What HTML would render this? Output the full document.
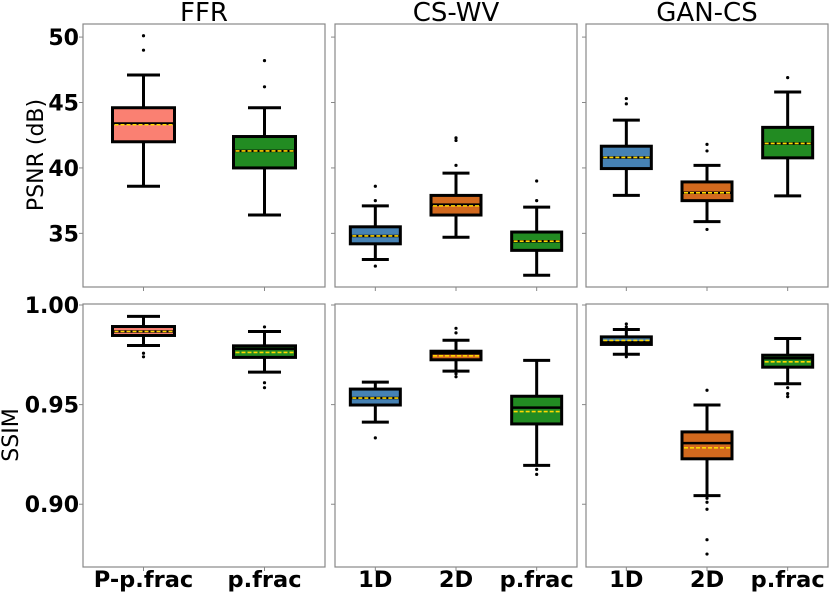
<!DOCTYPE html>
<html><head><meta charset="utf-8"><style>
html,body{margin:0;padding:0;background:#fff;}
svg{display:block;font-family:"DejaVu Sans","Liberation Sans",sans-serif;}
</style></head><body>
<svg id="fig" width="830" height="593" viewBox="0 0 830 593" xmlns="http://www.w3.org/2000/svg"></svg>
<script>
// ---- data ----
const panelTitles = ["FFR","CS-WV","GAN-CS"];
const cats_FFR = ["P-p.frac","p.frac"];
const cats_CSWV = ["1D","2D","p.frac"];
const cats_GAN = ["1D","2D","p.frac"];
const colors_FFR = ["#fa8072","#228b22"];
const colors_3 = ["#4682b4","#d2691e","#228b22"];
// each box: [whislo, q1, median, q3, whishi, mean]
const psnr_FFR = [[38.6,42.0,43.4,44.6,47.1,43.3],[36.4,40.0,41.3,42.4,44.6,41.3]];
const psnr_CSWV = [[33.0,34.2,34.8,35.5,37.1,34.8],[34.7,36.4,37.2,37.9,39.6,37.1],[31.8,33.7,34.4,35.1,37.0,34.4]];
const psnr_GAN = [[37.9,39.95,40.8,41.66,43.65,40.8],[35.9,37.5,38.1,38.93,40.2,38.1],[37.86,40.77,41.87,43.1,45.8,41.87]];
const psnrFliers_FFR = [[49.0,50.1],[46.2,48.2]];
const psnrFliers_CSWV = [[32.5,37.5,38.6],[40.2,42.1,42.3],[37.5,39.0]];
const psnrFliers_GAN = [[44.9,45.3],[35.3,41.3,41.8],[46.9]];
const ssim_FFR = [[0.9797,0.9847,0.9867,0.9892,0.9943,0.9867],[0.9663,0.9737,0.978,0.9795,0.9867,0.9762]];
const ssim_CSWV = [[0.9412,0.9498,0.9533,0.9578,0.9613,0.9533],[0.9668,0.9725,0.9757,0.9768,0.9823,0.9745],[0.9195,0.9403,0.9485,0.9542,0.9722,0.9465]];
const ssim_GAN = [[0.9753,0.9802,0.9813,0.984,0.9877,0.9822],[0.9043,0.9228,0.9307,0.9363,0.9498,0.9283],[0.9605,0.9688,0.9733,0.9748,0.9832,0.9715]];
const ssimFliers_FFR = [[0.974,0.9758],[0.989,0.961,0.9585]];
const ssimFliers_CSWV = [[0.9333],[0.986,0.9883,0.9655,0.964],[0.9175,0.915]];
const ssimFliers_GAN = [[0.9905,0.989,0.974],[0.9572,0.903,0.901,0.8975,0.8822,0.875],[0.9585,0.9555,0.954]];
const psnrTicks = [35,40,45,50];
const ssimTicks = [0.90,0.95,1.00];
const psnrTickLabels = ["35","40","45","50"];
const ssimTickLabels = ["0.90","0.95","1.00"];

const svg = document.getElementById('fig');
const NS = "http://www.w3.org/2000/svg";
function mk(tag, attrs, parent){ const e=document.createElementNS(NS,tag); for(const k in attrs) e.setAttribute(k,attrs[k]); (parent||svg).appendChild(e); return e; }

const colX = [[83,325],[335,577],[586,828]];
const rows = [
  {y0:24,y1:287,lo:30.9,hi:51.0,ticks:psnrTicks,labels:psnrTickLabels,name:'psnr'},
  {y0:304,y1:567,lo:0.8685,hi:1.0005,ticks:ssimTicks,labels:ssimTickLabels,name:'ssim'}
];
const rowData = [
  [[psnr_FFR,psnrFliers_FFR],[psnr_CSWV,psnrFliers_CSWV],[psnr_GAN,psnrFliers_GAN]],
  [[ssim_FFR,ssimFliers_FFR],[ssim_CSWV,ssimFliers_CSWV],[ssim_GAN,ssimFliers_GAN]]
];
const catsAll = [cats_FFR,cats_CSWV,cats_GAN];
const colorsAll = [colors_FFR,colors_3,colors_3];

rows.forEach((r,ri)=>{
  const yS = v => r.y0 + (r.hi - v)/(r.hi - r.lo)*(r.y1 - r.y0);
  colX.forEach((cx,ci)=>{
    const g = mk('g',{});
    
    
    const n = catsAll[ci].length;
    const w = cx[1]-cx[0];
    const xS = i => cx[0] + (i+0.5)/n*w;
    const bw = n===2 ? 62 : 50, cw = bw/2;
    const fr = mk('rect',{x:cx[0],y:r.y0,width:w,height:r.y1-r.y0,fill:'none',stroke:'#888','stroke-width':1.2},g);
    
    
    r.ticks.forEach((t,ti)=>{
      const y=yS(t);
      mk('line',{x1:cx[0]-4,x2:cx[0],y1:y,y2:y,stroke:'#888','stroke-width':1},g);
      if(ci===0){
        const tl = mk('text',{x:79,y:y+8,'text-anchor':'end','font-size':22,'font-weight':'bold',fill:'#000'},g);
        tl.textContent = r.labels[ti];
        
        
      }
    });
    const [stats,fliers] = rowData[ri][ci];
    stats.forEach((s,i)=>{
      const x = xS(i);
      mk('line',{x1:x,x2:x,y1:r.y1,y2:r.y1+4,stroke:'#888','stroke-width':1},g);
      const [wl,q1,md,q3,wh,mn] = s;
      const bg = mk('g',{},g);
      
      
      mk('line',{x1:x,x2:x,y1:yS(wh),y2:yS(q3),stroke:'#000','stroke-width':3},bg);
      mk('line',{x1:x,x2:x,y1:yS(q1),y2:yS(wl),stroke:'#000','stroke-width':3},bg);
      mk('line',{x1:x-cw/2-1,x2:x+cw/2+1,y1:yS(wh),y2:yS(wh),stroke:'#000','stroke-width':3},bg);
      mk('line',{x1:x-cw/2-1,x2:x+cw/2+1,y1:yS(wl),y2:yS(wl),stroke:'#000','stroke-width':3},bg);
      mk('rect',{x:x-bw/2,y:yS(q3),width:bw,height:yS(q1)-yS(q3),fill:colorsAll[ci][i],stroke:'#000','stroke-width':3},bg);
      mk('line',{x1:x-bw/2,x2:x+bw/2,y1:yS(md),y2:yS(md),stroke:'#000','stroke-width':2.5},bg);
      mk('line',{x1:x-bw/2+2,x2:x+bw/2-2,y1:yS(mn),y2:yS(mn),stroke:'#ffd700','stroke-width':1.6,'stroke-dasharray':'4 2'},bg);
      fliers[i].forEach(f=>{
        const c = mk('circle',{cx:x,cy:yS(f),r:1.6,fill:'#000'},bg);
        
        
      });
      if(ri===1){
        const xl = mk('text',{x:x,y:587,'text-anchor':'middle','font-size':22.5,'font-weight':'bold',fill:'#000'},g);
        xl.textContent = catsAll[ci][i];
        
        
      }
    });
    if(ri===0){
      const tt = mk('text',{x:(cx[0]+cx[1])/2,y:21,'text-anchor':'middle','font-size':26,fill:'#000'},g);
      tt.textContent = panelTitles[ci];
      
      
    }
  });
});
const yl1 = mk('text',{x:0,y:0,'text-anchor':'middle','font-size':22,fill:'#000',transform:'translate(43,155) rotate(-90)'});
yl1.textContent='PSNR (dB)';


const yl2 = mk('text',{x:0,y:0,'text-anchor':'middle','font-size':22,fill:'#000',transform:'translate(18,435) rotate(-90)'});
yl2.textContent='SSIM';


</script>
</body></html>
